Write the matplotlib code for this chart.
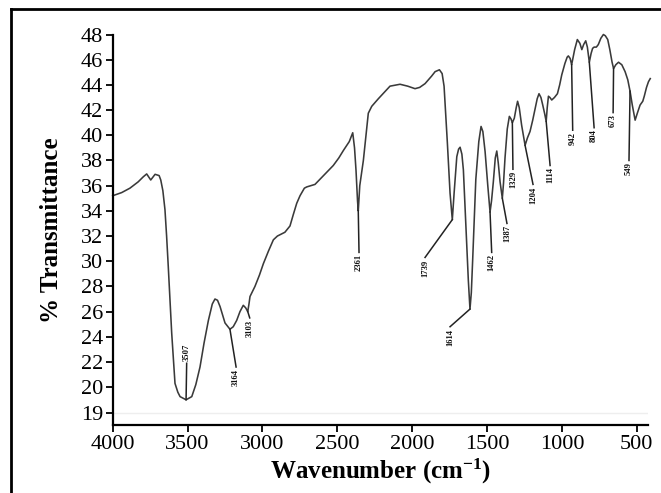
import matplotlib
matplotlib.use('Agg')
import matplotlib.pyplot as plt
from matplotlib.lines import Line2D

plt.rcParams['font.family'] = ['Liberation Serif', 'DejaVu Serif']
plt.rcParams['mathtext.default'] = 'regular'

# --- IR spectrum ---
wavenumber = [4000, 3940, 3885, 3830, 3796, 3773, 3746, 3717, 3690, 3679,
              3665, 3651, 3640, 3629, 3606, 3584, 3565, 3550, 3510, 3472,
              3445, 3417, 3390, 3361, 3335, 3317, 3300, 3283, 3250, 3217,
              3195, 3172, 3150, 3128, 3112, 3098, 3090, 3083, 3050, 3020,
              2994, 2960, 2927, 2900, 2883, 2850, 2816, 2794, 2771, 2749,
              2720, 2704, 2649, 2600, 2527, 2490, 2459, 2420, 2397, 2385,
              2375, 2365, 2360, 2350, 2326, 2293, 2270, 2226, 2148, 2081,
              2030, 1981, 1950, 1914, 1870, 1847, 1818, 1800, 1787, 1775,
              1765, 1747, 1732, 1720, 1702, 1690, 1680, 1668, 1658, 1636,
              1625, 1614, 1605, 1596, 1575, 1555, 1540, 1528, 1513, 1495,
              1480, 1470, 1458, 1445, 1435, 1425, 1413, 1398, 1390, 1380,
              1365, 1351, 1340, 1331, 1318, 1305, 1296, 1285, 1269, 1246,
              1230, 1213, 1195, 1179, 1165, 1153, 1140, 1128, 1115, 1105,
              1098, 1090, 1080, 1068, 1050, 1030, 1015, 1001, 980, 965,
              957, 945, 935, 915, 897, 880, 867, 855, 841, 830,
              817, 805, 795, 785, 770, 757, 740, 723, 710, 694,
              680, 665, 655, 640, 622, 600, 578, 560, 545, 530,
              511, 495, 478, 460, 450, 435, 422, 410]
transmittance = [35.2, 35.45, 35.8, 36.3, 36.7, 36.93, 36.45, 36.9, 36.8, 36.45,
                 35.6, 34.1, 32.0, 29.6, 24.3, 20.3, 19.6, 19.25, 19.0, 19.25,
                 20.2, 21.6, 23.5, 25.3, 26.6, 27.0, 26.9, 26.4, 25.1, 24.6,
                 24.8, 25.3, 26.0, 26.5, 26.3, 26.0, 26.6, 27.2, 28.0, 28.9,
                 29.8, 30.8, 31.7, 32.0, 32.1, 32.3, 32.8, 33.7, 34.6, 35.2,
                 35.8, 35.9, 36.1, 36.7, 37.6, 38.2, 38.8, 39.5, 40.2, 39.0,
                 37.2, 34.8, 34.0, 36.0, 38.0, 41.75, 42.3, 42.9, 43.9, 44.05,
                 43.9, 43.7, 43.8, 44.1, 44.7, 45.05, 45.2, 44.9, 43.9, 41.5,
                 39.4, 35.4, 33.3, 35.4, 38.3, 38.9, 39.05, 38.5, 37.25, 31.4,
                 28.5, 26.2, 27.5, 30.1, 36.5, 39.5, 40.7, 40.3, 38.7, 36.0,
                 33.9, 34.8, 36.3, 38.2, 38.75, 37.8, 36.3, 35.0, 36.2, 38.2,
                 40.5, 41.5, 41.3, 41.0, 41.35, 42.2, 42.7, 42.2, 40.8, 39.2,
                 39.8, 40.3, 41.2, 42.1, 42.9, 43.3, 43.0, 42.4, 41.7, 41.1,
                 42.2, 43.1, 43.0, 42.8, 43.0, 43.3, 44.0, 44.8, 45.7, 46.2,
                 46.3, 46.1, 45.6, 46.8, 47.6, 47.3, 46.8, 47.2, 47.5, 47.0,
                 45.8, 46.5, 46.9, 47.0, 47.0, 47.2, 47.7, 48.0, 47.9, 47.6,
                 46.8, 45.8, 45.3, 45.6, 45.8, 45.6, 45.05, 44.4, 43.5, 42.4,
                 41.2, 41.8, 42.4, 42.7, 43.1, 43.8, 44.25, 44.5]

# peak labels: band tip on the curve -> end of the leader line
peak_labels = ['3507', '3164', '3103', '2361', '1739', '1614', '1462', '1387',
               '1329', '1204', '1114', '942', '804', '673', '549']
tip_wn = [3510, 3217, 3098, 2360, 1732, 1614, 1480, 1398, 1331, 1246, 1105, 935, 817, 655, 545]
tip_t = [19.0, 24.6, 26.0, 34.0, 33.3, 26.2, 33.9, 35.0, 41.0, 39.2, 41.1, 45.6, 45.8, 45.3, 43.5]
end_wn = [3506, 3176, 3085, 2355, 1914, 1747, 1469, 1367, 1327, 1193, 1079, 928, 785, 658, 552]
end_t = [21.9, 21.6, 25.5, 30.7, 30.3, 24.8, 30.7, 33.0, 37.3, 36.1, 37.6, 40.4, 40.6, 41.8, 38.0]

y_ticks = [17.94] + list(range(20, 49, 2))
y_ticklabels = ['19'] + [str(v) for v in range(20, 49, 2)]
x_ticks = [4000, 3500, 3000, 2500, 2000, 1500, 1000, 500]

fig = plt.figure(figsize=(6.61, 4.93), dpi=100)
ax = fig.add_axes([0.1705, 0.138, 0.8103, 0.792])

# faint old gridline at the bottom tick
ax.axhline(y_ticks[0], color='#eeeeee', lw=1.0, zorder=0)

ax.plot(wavenumber, transmittance, color='#3a3a3a', lw=1.15, clip_on=False)

for lab, tw, tt, ew, et in zip(peak_labels, tip_wn, tip_t, end_wn, end_t):
    ax.plot([tw, ew], [tt, et], color='#222222', lw=1.1)
    if et > tt:
        # leader goes up from the band, label sits above it
        ax.text(ew, et + 0.15, lab, rotation=90, ha='center', va='bottom',
                fontsize=6.2, fontweight='bold', color='#111111')
    else:
        ax.text(ew, et - 0.15, lab, rotation=90, ha='center', va='top',
                fontsize=6.2, fontweight='bold', color='#111111')

ax.set_xlim(4000, 423)
ax.set_ylim(17.0, 48)
ax.set_xticks(x_ticks)
ax.set_yticks(y_ticks)
ax.set_yticklabels(y_ticklabels)

for side in ['top', 'right']:
    ax.spines[side].set_visible(False)
for side in ['left', 'bottom']:
    ax.spines[side].set_linewidth(1.6)
ax.tick_params(axis='both', direction='out', length=5, width=1.3,
               labelsize=16, pad=2)

ax.set_xlabel('Wavenumber (cm$^{-1}$)', fontsize=18, fontweight='bold', labelpad=2)
ax.set_ylabel('% Transmittance', fontsize=18, fontweight='bold', labelpad=13)

# outer frame of the original figure (top and left edges only)
fig.add_artist(Line2D([10.5 / 661, 1.0], [1 - 9 / 493, 1 - 9 / 493],
                      transform=fig.transFigure, color='black', lw=2.0))
fig.add_artist(Line2D([11 / 661, 11 / 661], [0.0, 1 - 9 / 493],
                      transform=fig.transFigure, color='black', lw=2.0))

fig.savefig('out.png', dpi=100)
